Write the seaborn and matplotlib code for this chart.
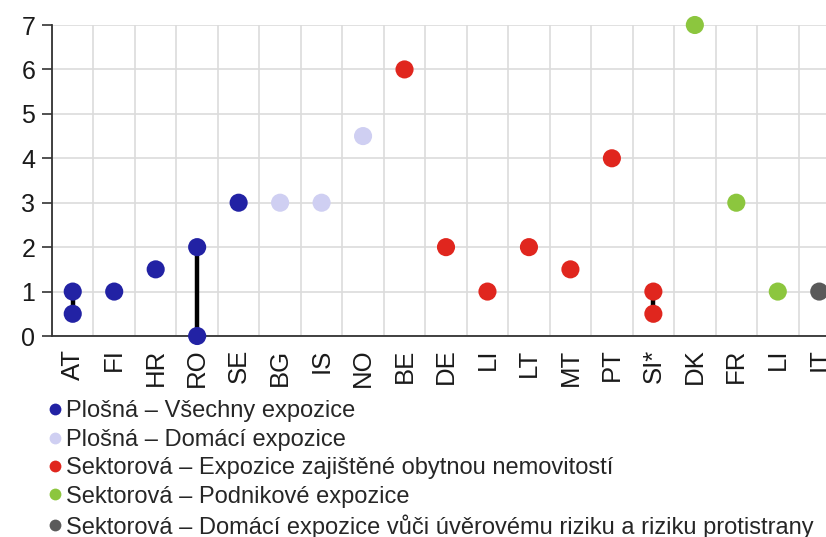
import matplotlib
matplotlib.use("Agg")
import matplotlib.pyplot as plt
import seaborn as sns
import pandas as pd
from matplotlib.lines import Line2D

# ---- data ----
slot_labels = ["AT", "FI", "HR", "RO", "SE", "BG", "IS", "NO", "BE", "DE",
               "LI", "LT", "MT", "PT", "SI*", "DK", "FR", "LI", "IT"]

point_slot = [0, 0, 1, 2, 3, 3, 4, 5, 6, 7, 8, 9, 10, 11, 12, 13, 14, 14, 15, 16, 17, 18]
point_value = [1, 0.5, 1, 1.5, 2, 0, 3, 3, 3, 4.5, 6, 2, 1, 2, 1.5, 4, 1, 0.5, 7, 3, 1, 1]
point_type = ["A", "A", "A", "A", "A", "A", "A", "B", "B", "B",
              "C", "C", "C", "C", "C", "C", "C", "C", "D", "D", "D", "E"]

type_keys = ["A", "B", "C", "D", "E"]
type_labels = [
    "Plošná – Všechny expozice",
    "Plošná – Domácí expozice",
    "Sektorová – Expozice zajištěné obytnou nemovitostí",
    "Sektorová – Podnikové expozice",
    "Sektorová – Domácí expozice vůči úvěrovému riziku a riziku protistrany",
]
type_colors = ["#2222a4", "#cfcff2", "#e0261e", "#8cc63e", "#5a5a5a"]

range_slot = [0, 3, 14]
range_low = [0.5, 0, 0.5]
range_high = [1, 2, 1]

y_ticks = [0, 1, 2, 3, 4, 5, 6, 7]

# ---- plot ----
sns.set_theme(style="white")
plt.rcParams["font.family"] = ["Liberation Sans", "DejaVu Sans"]

W, H = 826, 537
fig = plt.figure(figsize=(W / 100, H / 100), dpi=100)
left_px, right_px, top_px, bot_px = 52, 840, 25, 336
ax = fig.add_axes([left_px / W, 1 - bot_px / H, (right_px - left_px) / W, (bot_px - top_px) / H])

df = pd.DataFrame({"slot": point_slot, "value": point_value, "type": point_type})
palette = dict(zip(type_keys, type_colors))

ax.vlines(range_slot, range_low, range_high, colors="black", linewidth=3.2, zorder=2)
sns.scatterplot(data=df, x="slot", y="value", hue="type", palette=palette,
                hue_order=type_keys, s=170, edgecolor="none", linewidth=0,
                legend=False, ax=ax, zorder=3, clip_on=False)

ax.set_xlim(-0.5, len(slot_labels) - 0.5)
ax.set_ylim(0, 7)
ax.set_yticks(y_ticks)
ax.set_yticklabels([str(v) for v in y_ticks], fontsize=18, color="#1a1a1a")
ax.set_xticks(range(len(slot_labels)))
ax.set_xticklabels(slot_labels, rotation=90, fontsize=18.5, color="#1a1a1a")
ax.set_xticks([i + 0.5 for i in range(-1, len(slot_labels))], minor=True)
ax.tick_params(axis="x", which="major", length=0, pad=9)
ax.tick_params(axis="x", which="minor", length=0)
ax.tick_params(axis="y", which="major", length=7, width=1.2, color="#333333",
               direction="out", pad=5, left=True)
ax.grid(False)
ax.grid(True, axis="y", which="major", color="#dcdcdc", linewidth=1.2)
ax.grid(True, axis="x", which="minor", color="#dcdcdc", linewidth=1.2)
ax.set_axisbelow(True)
for s in ["top", "right"]:
    ax.spines[s].set_visible(False)
for s in ["left", "bottom"]:
    ax.spines[s].set_color("#333333")
    ax.spines[s].set_linewidth(1.3)
ax.set_xlabel("")
ax.set_ylabel("")

handles = [Line2D([0], [0], marker="o", linestyle="none", markersize=8.5,
                  markerfacecolor=c, markeredgecolor="none") for c in type_colors]
fig.legend(handles, type_labels, loc="upper left", bbox_to_anchor=(49 / W, 1 - 400.5 / H),
           frameon=False, fontsize=17, handlelength=0.55, handletextpad=0.18,
           labelspacing=0.27, borderpad=0, borderaxespad=0)

fig.savefig("out.png", dpi=100)
